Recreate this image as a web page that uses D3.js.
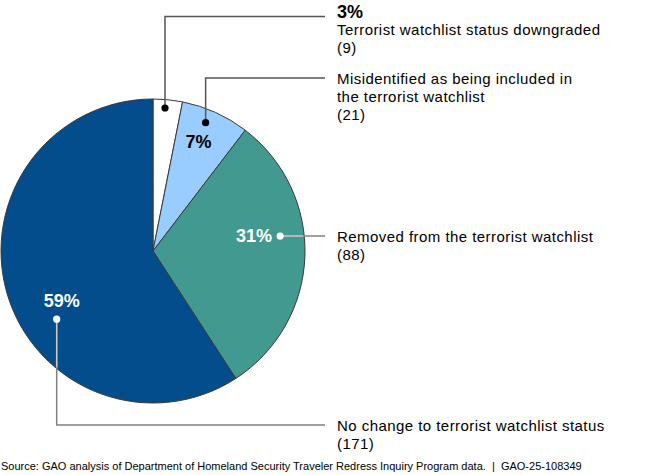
<!DOCTYPE html>
<html>
<head>
<meta charset="utf-8">
<script src="https://cdn.jsdelivr.net/npm/d3@7"></script>
<style>
  body { margin: 0; background: #fff; }
  text { font-family: Arial, "Liberation Sans", sans-serif; }
</style>
</head>
<body>
<svg id="chart" width="650" height="475"></svg>
<script>
// Chart data
var categories = ["Downgraded", "Misidentified", "Removed", "No change"];
var counts = [9, 21, 88, 171];
var percentLabels = ["3%", "7%", "31%", "59%"];
var labelLines = [
    ["Terrorist watchlist status downgraded", "(9)"],
    ["Misidentified as being included in", "the terrorist watchlist", "(21)"],
    ["Removed from the terrorist watchlist", "(88)"],
    ["No change to terrorist watchlist status", "(171)"]
];
var colors = ["#ffffff", "#99ccff", "#42998f", "#044d8d"];
var sourceText = "Source: GAO analysis of Department of Homeland Security Traveler Redress Inquiry Program data.  |  GAO-25-108349";

// Layout for leader dots / lines (angle in degrees clockwise from top, radius in px)
var dotAngle = [4.8, 22.3, 83.3, 234.7];
var dotRadius = [143.5, 138.7, 128, 118];
var leaderY = [16.5, 78, null, 425]; // null = straight across from the dot
var darkSlice = [false, false, true, true];

var svg = d3.select('#chart');
var cx = 153, cy = 251, radius = 152;
var lineEndX = 325, textX = 337;

var pie = d3.pie().sort(null).value(function(d) { return d; });
var arc = d3.arc().innerRadius(0).outerRadius(radius);
var arcs = pie(counts);

var g = svg.append('g')
    .attr('transform', 'translate(' + cx + ',' + cy + ')');

g.selectAll('path.slice')
    .data(arcs)
    .enter().append('path')
    .attr('class', 'slice')
    .attr('d', arc)
    .style('fill', function(d, i) { return colors[i]; })
    .style('stroke', '#3a3a3a')
    .style('stroke-width', 1);

// clip to draw the inside part of lines lighter on dark slices
svg.append('defs').append('clipPath')
    .attr('id', 'pieClip')
    .append('circle')
    .attr('cx', cx).attr('cy', cy).attr('r', radius - 1);

var dots = arcs.map(function(d, i) {
    var p = d3.pointRadial(dotAngle[i] * Math.PI / 180, dotRadius[i]);
    return [cx + p[0], cy + p[1]];
});

function leaderPath(i) {
    var p = dots[i];
    if (leaderY[i] === null) return 'M' + p[0] + ',' + p[1] + 'H' + lineEndX;
    return 'M' + p[0] + ',' + p[1] + 'V' + leaderY[i] + 'H' + lineEndX;
}

var leaders = svg.append('g');
arcs.forEach(function(d, i) {
    leaders.append('path')
        .attr('d', leaderPath(i))
        .style('fill', 'none')
        .style('stroke', darkSlice[i] ? '#808080' : '#555555')
        .style('stroke-width', 1.5);
    if (darkSlice[i]) {
        leaders.append('path')
            .attr('d', leaderPath(i))
            .attr('clip-path', 'url(#pieClip)')
            .style('fill', 'none')
            .style('stroke', '#c8c8c8')
            .style('stroke-width', 1.5);
    }
    leaders.append('circle')
        .attr('cx', dots[i][0])
        .attr('cy', dots[i][1])
        .attr('r', 3.6)
        .style('fill', darkSlice[i] ? '#ffffff' : '#000000');
});

// Percent labels inside the pie
var pctPos = [null, {dx: -7, dy: 25, anchor: 'middle'}, {dx: -8, dy: 6, anchor: 'end'}, {dx: 5, dy: -12, anchor: 'middle'}];
arcs.forEach(function(d, i) {
    if (!pctPos[i]) return;
    svg.append('text')
        .attr('x', dots[i][0] + pctPos[i].dx)
        .attr('y', dots[i][1] + pctPos[i].dy)
        .attr('text-anchor', pctPos[i].anchor)
        .style('font-size', '18px')
        .style('font-weight', 'bold')
        .style('fill', darkSlice[i] ? '#ffffff' : '#000000')
        .text(percentLabels[i]);
});

// Category labels on the right
arcs.forEach(function(d, i) {
    var lineY = leaderY[i] === null ? dots[i][1] : leaderY[i];
    var base = lineY + 5.5;
    var t = svg.append('text')
        .attr('x', textX)
        .style('font-size', '15px')
        .style('letter-spacing', '0.45px')
        .style('fill', '#000');
    if (i === 0) {
        t.append('tspan')
            .attr('x', textX)
            .attr('y', lineY + 1)
            .style('font-size', '18px')
            .style('font-weight', 'bold')
            .style('letter-spacing', '0px')
            .text(percentLabels[i]);
        base = lineY + 18.5;
    }
    labelLines[i].forEach(function(line, k) {
        t.append('tspan')
            .attr('x', textX)
            .attr('y', base + k * 18)
            .text(line);
    });
});

// Source note
svg.append('text')
    .attr('x', 1)
    .attr('y', 470)
    .style('font-size', '11px')
    .style('fill', '#000')
    .text(sourceText)
    .attr('xml:space', 'preserve');
</script>
</body>
</html>
